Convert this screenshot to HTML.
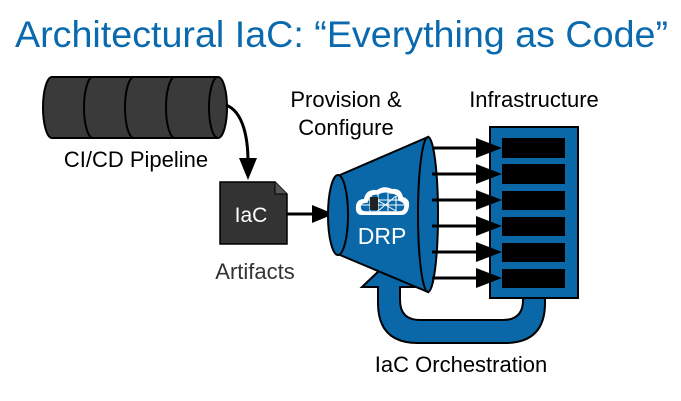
<!DOCTYPE html>
<html><head><meta charset="utf-8"><style>html,body{margin:0;padding:0;background:#fff}svg{display:block}</style></head>
<body>
<svg width="681" height="401" viewBox="0 0 681 401" xmlns="http://www.w3.org/2000/svg" font-family="Liberation Sans, Arial, sans-serif">
<text x="15" y="47" font-size="37" fill="#0a6aad" textLength="653" lengthAdjust="spacingAndGlyphs">Architectural IaC: “Everything as Code”</text>

<!-- pipeline cylinder -->
<g stroke="#000" stroke-width="2" fill="#3a3a3a">
<path d="M52,77 L218,77 A9,30.5 0 0 1 218,138 L52,138 A9,30.5 0 0 1 52,77 z"/>
<path d="M93,77 A9,30.5 0 0 0 93,138" fill="none"/>
<path d="M134,77 A9,30.5 0 0 0 134,138" fill="none"/>
<path d="M175,77 A9,30.5 0 0 0 175,138" fill="none"/>
<path d="M218,77 A9,30.5 0 0 0 218,138" fill="none"/>
</g>
<path d="M226,105 C244,112 248,140 248,162" stroke="#000" stroke-width="3" fill="none"/>
<path d="M239,158 L257,158 L248,180 z" fill="#000"/>
<text x="136" y="167" font-size="22" text-anchor="middle" fill="#000">CI/CD Pipeline</text>

<!-- IaC doc -->
<path d="M220,182 L275,182 L287,194 L287,244 L220,244 z" fill="#333" stroke="#000" stroke-width="1.5"/>
<path d="M275,182 L275,194 L287,194" fill="#555" stroke="#000" stroke-width="1"/>
<text x="251" y="222" font-size="21" text-anchor="middle" fill="#fff">IaC</text>
<text x="255" y="279" font-size="22" text-anchor="middle" fill="#333">Artifacts</text>
<line x1="287" y1="214" x2="316" y2="214" stroke="#000" stroke-width="3"/>
<path d="M312,205 L334,214 L312,223 z" fill="#000"/>

<!-- return loop -->
<path d="M523,297 L523,300 Q523,320 503,320 L420,320 Q400,320 400,300 L400,287 L420,287 L382,268 L362,287 L378,287 L378,303 Q378,343 418,343 L505,343 Q545,343 545,303 L545,297 z" fill="#0a67a8" stroke="#000" stroke-width="2"/>

<!-- funnel -->
<path d="M340,175 L428,137 L428,292 L340,255 z" fill="#0a67a8" stroke="#000" stroke-width="2"/>
<ellipse cx="338" cy="215" rx="10" ry="40" fill="#0a67a8" stroke="#000" stroke-width="2"/>
<ellipse cx="428" cy="214.5" rx="10" ry="77.5" fill="#0a67a8" stroke="#000" stroke-width="2"/>
<!-- cloud -->
<g>
<path d="M362,215 Q355,215 356,206 Q357,199 364,199 Q366,189 377,190 Q384,185 392,189 Q401,188 403,197 Q410,199 409,206 Q408,215 401,215 z" fill="#fff"/>
<path d="M365,212 Q360,212 360,206 Q361,202 367,202 Q369,193 378,194 Q384,190 391,193 Q399,193 399,200 Q405,202 405,206 Q405,212 399,212 z" fill="#0a67a8" stroke="#fff" stroke-width="1.5"/>
<path d="M370,196 L370,211 M378,194 L378,211 M388,193 L388,211 M396,196 L396,211 M361,205 L404,205 M366,200 L400,200 M370,196 L396,211 M378,211 L396,196" stroke="#fff" stroke-width="1"/>
<path d="M370,197 L378,197 L378,210 L370,210 z" fill="#222"/>
</g>
<text x="382" y="244" font-size="23" text-anchor="middle" fill="#fff">DRP</text>

<!-- infrastructure -->
<rect x="490" y="127" width="88" height="171" fill="#0a67a8" stroke="#000" stroke-width="2"/>
<g fill="#000">
<rect x="502" y="138" width="63" height="20"/>
<rect x="502" y="164" width="63" height="20"/>
<rect x="502" y="191" width="63" height="19"/>
<rect x="502" y="217" width="63" height="19"/>
<rect x="502" y="243" width="63" height="19"/>
<rect x="502" y="269" width="63" height="19"/>
</g>
<g stroke="#000" stroke-width="3">
<line x1="432" y1="148" x2="482" y2="148"/>
<line x1="432" y1="174" x2="482" y2="174"/>
<line x1="432" y1="200" x2="482" y2="200"/>
<line x1="432" y1="226" x2="482" y2="226"/>
<line x1="432" y1="252" x2="482" y2="252"/>
<line x1="432" y1="278" x2="482" y2="278"/>
</g>
<g fill="#000">
<path d="M476,138 L502,148 L476,158 z"/>
<path d="M476,164 L502,174 L476,184 z"/>
<path d="M476,190 L502,200 L476,210 z"/>
<path d="M476,216 L502,226 L476,236 z"/>
<path d="M476,242 L502,252 L476,262 z"/>
<path d="M476,268 L502,278 L476,288 z"/>
</g>

<text x="346" y="107" font-size="22" text-anchor="middle" fill="#000">Provision &amp;</text>
<text x="346" y="135" font-size="22" text-anchor="middle" fill="#000">Configure</text>
<text x="534" y="107" font-size="22" text-anchor="middle" fill="#000">Infrastructure</text>
<text x="461" y="372" font-size="22" text-anchor="middle" fill="#000">IaC Orchestration</text>
</svg>
</body></html>
